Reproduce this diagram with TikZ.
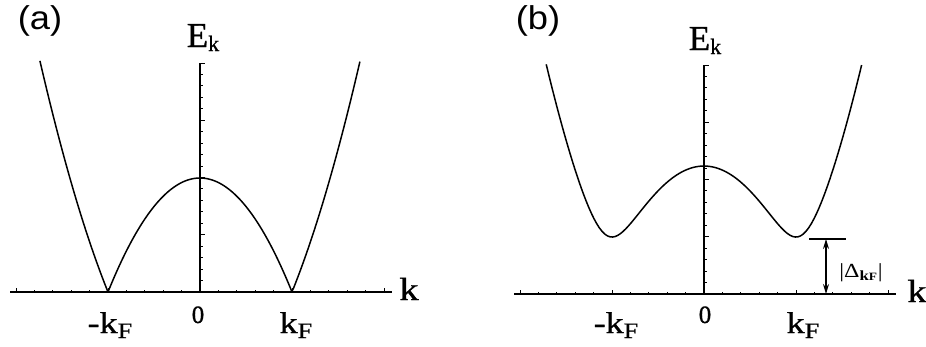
\documentclass[tikz,border=0pt]{standalone}
\usepackage{fontspec}
\setmainfont{Liberation Serif}
\setsansfont{Liberation Sans}
\newfontfamily\labelfont{Liberation Serif}[FakeBold=0.8]
\usepackage{graphicx}
\usetikzlibrary{arrows.meta, calc}

\newcommand{\wide}[2][1.2]{\scalebox{#1}[1]{#2}}
\newcommand{\subtxt}[2][5pt]{\raisebox{-#1}{\fontsize{22}{22}\selectfont #2}}

\begin{document}
\begin{tikzpicture}[
  x=1pt, y=-1pt,
  axisline/.style={line width=1.8pt, draw=black},
  tickmark/.style={line width=1pt, draw=black},
  curve/.style={line width=1.5pt, draw=black, line join=round},
  lbl/.style={inner sep=0pt, anchor=base, font=\labelfont\fontsize{30}{30}\selectfont},
  elbl/.style={inner sep=0pt, anchor=base, font=\labelfont\fontsize{35}{35}\selectfont},
  zero/.style={inner sep=0pt, anchor=base, font=\labelfont\fontsize{25}{25}\selectfont},
  panel/.style={inner sep=0pt, font=\sffamily\fontsize{33}{33}\selectfont},
  gaplbl/.style={inner sep=0pt, font=\fontsize{20}{20}\selectfont},
  gap/.style={{Stealth[length=10pt, width=6pt]}-{Stealth[length=10pt, width=6pt]}, line width=1.2pt}
]
  \useasboundingbox (0,0) rectangle (926,346);

  % (a) metal
  \coordinate (oa) at (200,292);
  \coordinate (axl) at (10,292);
  \coordinate (axr) at (392,292);
  \coordinate (ayt) at (200,63);
  \draw[axisline] (axl) -- (axr);
  \draw[axisline] (oa) -- (ayt);
  \foreach \i in {-10,...,10} {
    \pgfmathsetmacro\len{mod(\i,5)==0 ? 4.5 : 2.5}
    \draw[tickmark] ($(oa)+(18.4*\i,0)$) -- ++(0,-\len);
  }
  \foreach \j in {1,...,20} {
    \pgfmathsetmacro\len{mod(\j,5)==0 ? 5 : 3}
    \draw[tickmark] ($(oa)+(0,-11.45*\j)$) -- ++(\len,0);
  }
  \draw[curve] plot[domain=-1.74:1.74, samples=175] ({200+92*\x},{292-114*abs(\x*\x-1)});

  \node[panel] (taga) at (40,21) {\wide[1.1]{(a)}};
  \node[elbl] (eka) at (203,47) {E\subtxt[4pt]{k}};
  \node[lbl, font=\labelfont\fontsize{32}{32}\selectfont] (ka) at (409,300) {\wide{k}};
  \node[lbl] (mkfa) at (110,333) {\wide{-k\subtxt{F}}};
  \node[zero] (za) at (198,323) {0};
  \node[lbl] (kfa) at (296,333) {\wide{k\subtxt{F}}};

  % (b) gapped
  \coordinate (ob) at (704,294);
  \coordinate (bxl) at (514,294);
  \coordinate (bxr) at (896,294);
  \coordinate (byt) at (704,65);
  \draw[axisline] (bxl) -- (bxr);
  \draw[axisline] (ob) -- (byt);
  \foreach \i in {-10,...,10} {
    \pgfmathsetmacro\len{mod(\i,5)==0 ? 4.5 : 2.5}
    \draw[tickmark] ($(ob)+(18.4*\i,0)$) -- ++(0,-\len);
  }
  \foreach \j in {1,...,20} {
    \pgfmathsetmacro\len{mod(\j,5)==0 ? 5 : 3}
    \draw[tickmark] ($(ob)+(0,-11.45*\j)$) -- ++(\len,0);
  }
  \draw[curve] plot[domain=-1.715:1.715, samples=120] ({704+92*\x},{294-114.6*sqrt((\x*\x-1)*(\x*\x-1)+0.247)});

  \coordinate (gapl) at (809,239);
  \coordinate (gapr) at (846,239);
  \coordinate (gaptop) at (826,239);
  \coordinate (gapbot) at (826,294);
  \draw[axisline] (gapl) -- (gapr);
  \draw[gap] (gaptop) -- (gapbot);
  \node[gaplbl] (gaplabel) at (861,273) {\wide{|Δ\textsubscript{\textbf{k\scalebox{0.8}{F}}}|}};

  \node[panel] (tagb) at (538,21) {\wide[1.1]{(b)}};
  \node[elbl] (ekb) at (705,50) {E\subtxt[4pt]{k}};
  \node[lbl, font=\labelfont\fontsize{32}{32}\selectfont] (kb) at (917,302) {\wide{k}};
  \node[lbl] (mkfb) at (616,333) {\wide{-k\subtxt{F}}};
  \node[zero] (zb) at (705,323) {0};
  \node[lbl] (kfb) at (803,333) {\wide{k\subtxt{F}}};
\end{tikzpicture}
\end{document}
